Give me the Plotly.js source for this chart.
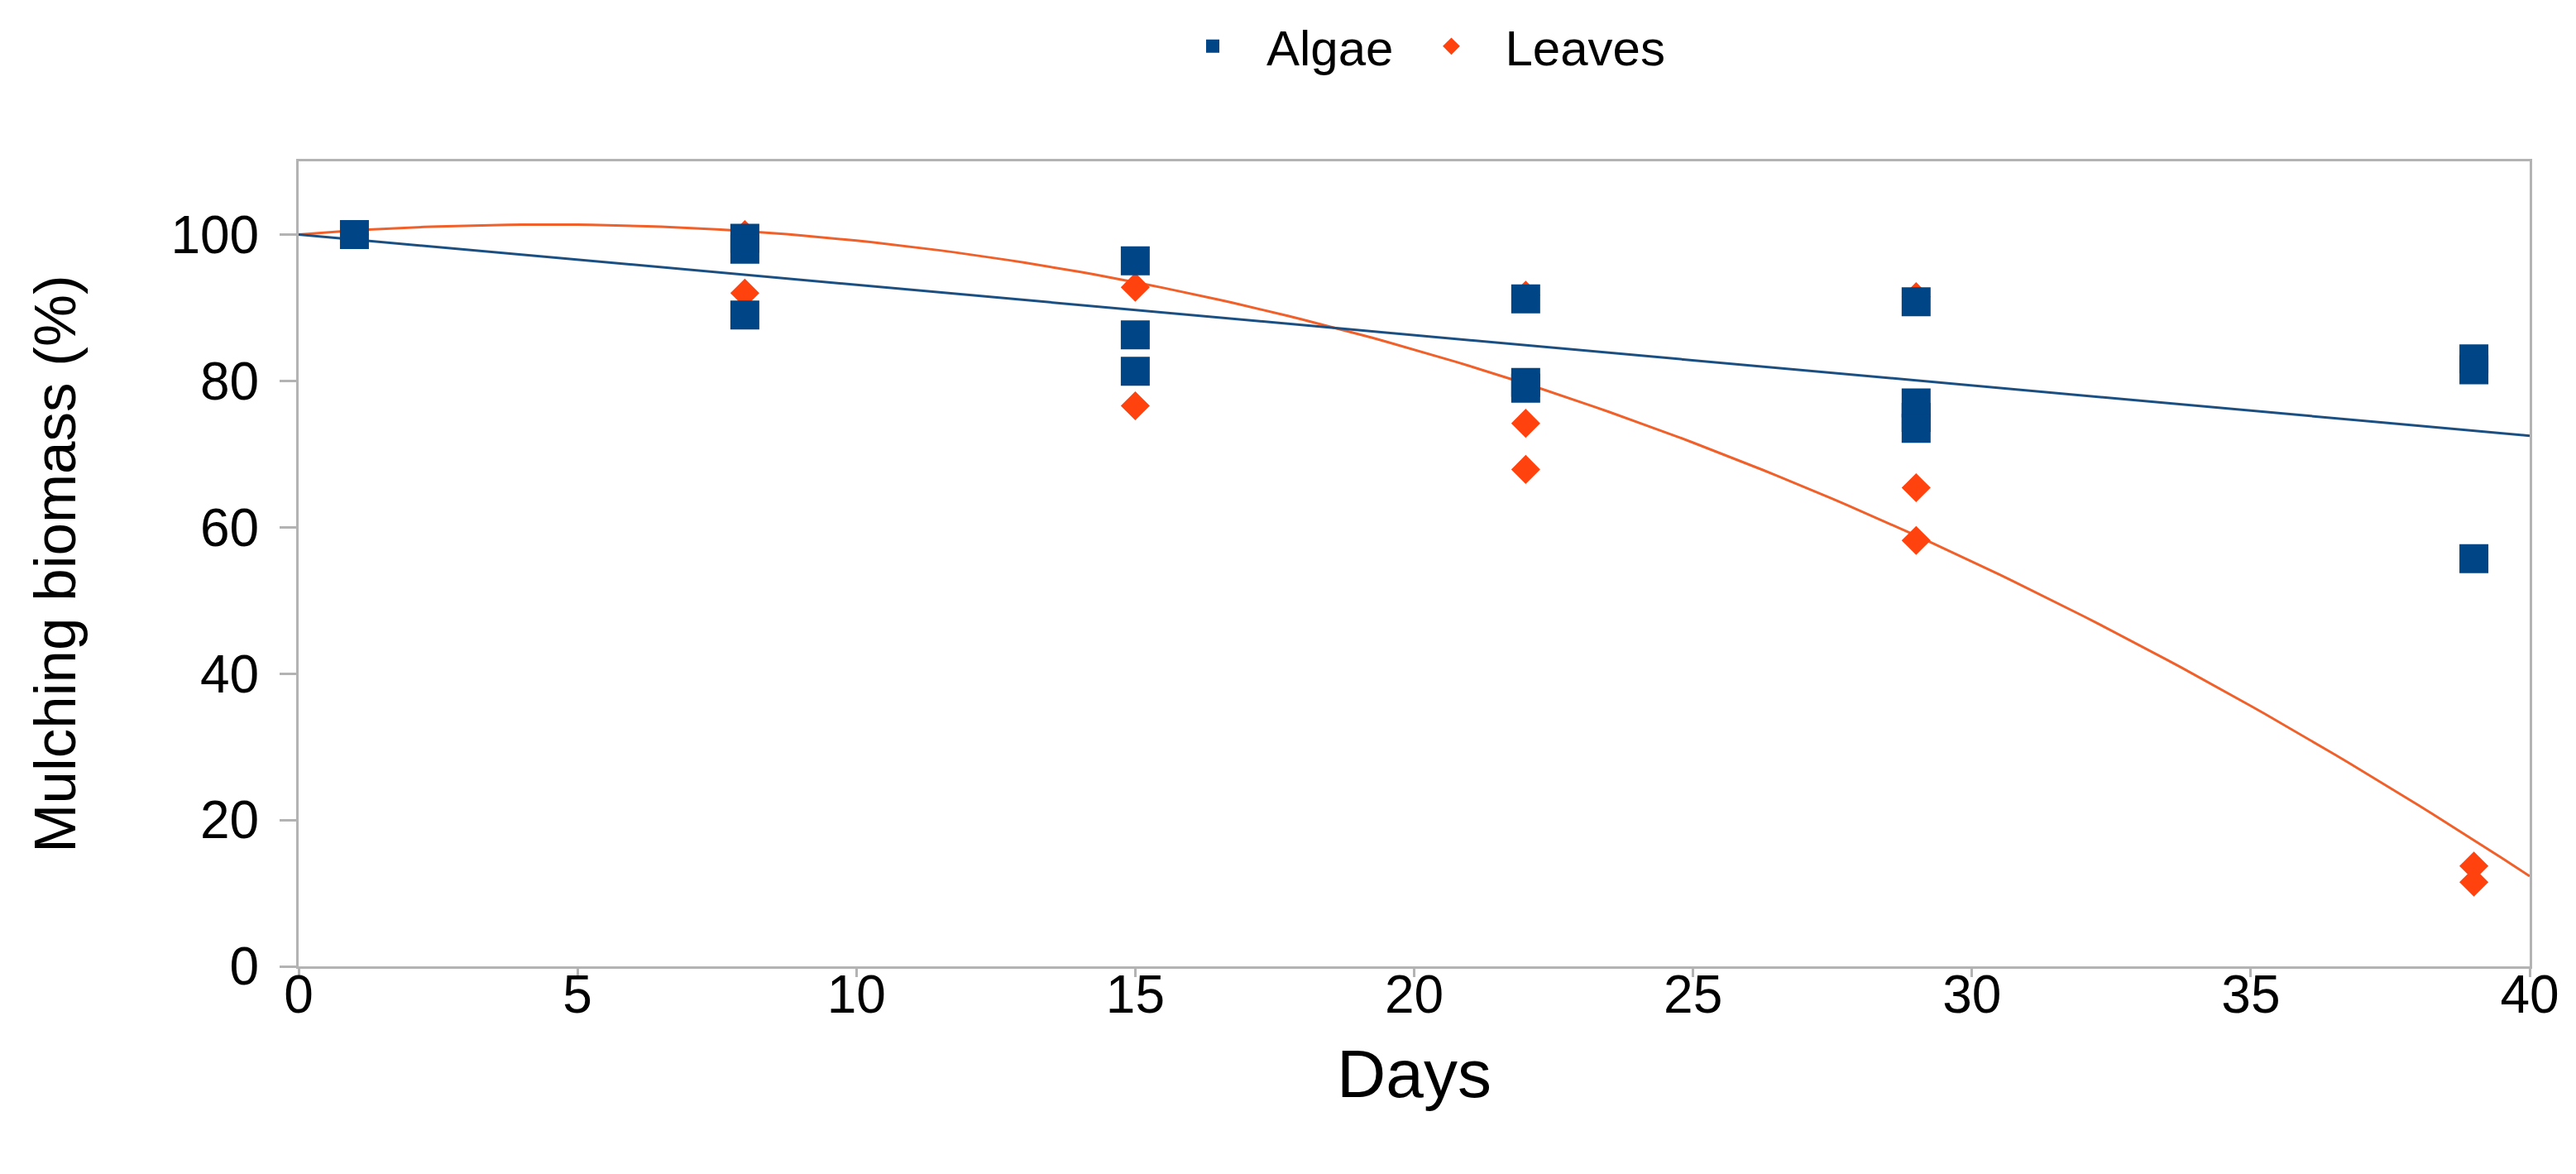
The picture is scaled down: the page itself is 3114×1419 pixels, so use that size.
<!DOCTYPE html>
<html>
<head>
<meta charset="utf-8">
<script src="https://cdn.plot.ly/plotly-3.0.1.min.js"></script>
<style>html,body{margin:0;padding:0;background:#fff;}#chart{width:3114px;height:1419px;}</style>
</head>
<body>
<div id="chart"></div>
<script>
// Data
const algaeDays    = [1, 8, 8, 8, 15, 15, 15, 22, 22, 22, 29, 29, 29, 29, 39, 39, 39];
const algaeBiomass = [100, 99.5, 98, 89, 96.4, 86.3, 81.3, 91.2, 79.8, 79, 90.8, 77, 75, 73.5, 83, 81.5, 55.7];
const leavesDays    = [1, 8, 8, 15, 15, 22, 22, 22, 29, 29, 29, 39, 39];
const leavesBiomass = [100, 100, 92, 92.8, 76.6, 91.7, 74.2, 67.9, 91.5, 65.4, 58.2, 13.7, 11.5];
// Trendline coefficients (c0 + c1*x + c2*x^2) as read from the drawn trendlines
const algaeTrendCoef  = [100, -0.6875];
const leavesTrendCoef = [100, 0.62, -0.0703];
const xTicks = [0, 5, 10, 15, 20, 25, 30, 35, 40];
const yTicks = [0, 20, 40, 60, 80, 100];

function trend(coef) {
  const xs = [], ys = [];
  for (let i = 0; i <= 160; i++) {
    const x = i * 0.25;
    let y = 0;
    coef.forEach((c, k) => { y += c * Math.pow(x, k); });
    xs.push(x); ys.push(y);
  }
  return {x: xs, y: ys};
}
const tA = trend(algaeTrendCoef), tL = trend(leavesTrendCoef);

const blue = '#004586', orange = '#ff420e';
const FONT = 'Liberation Sans, Arial, sans-serif';

const traces = [
  {x: tL.x, y: tL.y, mode: 'lines', line: {color: '#f0602a', width: 3}, showlegend: false, hoverinfo: 'skip'},
  {x: tA.x, y: tA.y, mode: 'lines', line: {color: '#1b4f82', width: 3}, showlegend: false, hoverinfo: 'skip'},
  {x: leavesDays, y: leavesBiomass, mode: 'markers', name: 'Leaves', legendrank: 2,
   marker: {symbol: 'diamond', size: 27, color: orange}},
  {x: algaeDays, y: algaeBiomass, mode: 'markers', name: 'Algae', legendrank: 1,
   marker: {symbol: 'square', size: 35, color: blue}}
];

const axisCommon = {
  showgrid: false, zeroline: false, showline: true, mirror: true,
  linecolor: '#b3b3b3', linewidth: 3,
  ticks: 'outside', tickwidth: 3, tickcolor: '#b3b3b3',
  tickfont: {family: FONT, size: 64, color: '#000'}
};

const layout = {
  width: 3114, height: 1419,
  paper_bgcolor: '#fff', plot_bgcolor: '#fff',
  margin: {l: 361, r: 56, t: 195, b: 251, autoexpand: false},
  font: {family: FONT, color: '#000'},
  xaxis: Object.assign({}, axisCommon, {
    range: [0, 40], tickvals: xTicks, ticktext: xTicks.map(String),
    ticklen: 10, ticklabelstandoff: -34,
    title: {text: 'Days', font: {family: FONT, size: 82, color: '#000'}, standoff: 32}
  }),
  yaxis: Object.assign({}, axisCommon, {
    range: [0, 110], tickvals: yTicks, ticktext: yTicks.map(String),
    ticklen: 20, ticklabelstandoff: 12,
    title: {text: 'Mulching biomass (%)', font: {family: FONT, size: 71, color: '#000'}, standoff: 92}
  }),
  legend: {
    orientation: 'h', x: 0.5, xanchor: 'center', y: 1.143, yanchor: 'middle',
    font: {family: FONT, size: 60, color: '#000'}, itemwidth: 120
  },
  showlegend: true
};

Plotly.newPlot('chart', traces, layout, {displayModeBar: false, staticPlot: true});
</script>
</body>
</html>
